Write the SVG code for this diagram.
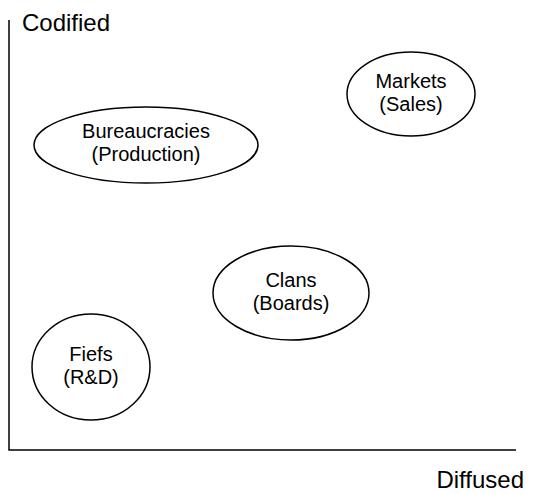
<svg xmlns="http://www.w3.org/2000/svg" width="536" height="494" viewBox="0 0 536 494">
<style>
.n{fill:none;stroke:#000;stroke-width:1.5}
.t{font-family:"Liberation Sans",Arial,sans-serif;font-size:20px;text-anchor:middle;fill:#000}
.a{font-family:"Liberation Sans",Arial,sans-serif;font-size:24px;fill:#000}
.ax{stroke:#000;stroke-width:1.5;fill:none}
</style>
<rect width="536" height="494" fill="#fff"/>
<g id="axes">
<polyline class="ax" points="9,20 9,450 516,450"/>
<text class="a" x="22" y="31">Codified</text>
<text class="a" x="524" y="488" text-anchor="end">Diffused</text>
</g>
<g id="bureaucracies">
<ellipse class="n" cx="146" cy="145" rx="112" ry="38"/>
<text class="t" x="146" y="138">Bureaucracies</text>
<text class="t" x="146" y="161">(Production)</text>
</g>
<g id="markets">
<ellipse class="n" cx="411" cy="94" rx="64" ry="42"/>
<text class="t" x="411" y="88">Markets</text>
<text class="t" x="411" y="111">(Sales)</text>
</g>
<g id="clans">
<ellipse class="n" cx="291" cy="293" rx="78" ry="47"/>
<text class="t" x="291" y="287">Clans</text>
<text class="t" x="291" y="310">(Boards)</text>
</g>
<g id="fiefs">
<ellipse class="n" cx="91" cy="367" rx="59" ry="53"/>
<text class="t" x="91" y="361">Fiefs</text>
<text class="t" x="91" y="384">(R&amp;D)</text>
</g>
<g id="connectors"></g>
</svg>
